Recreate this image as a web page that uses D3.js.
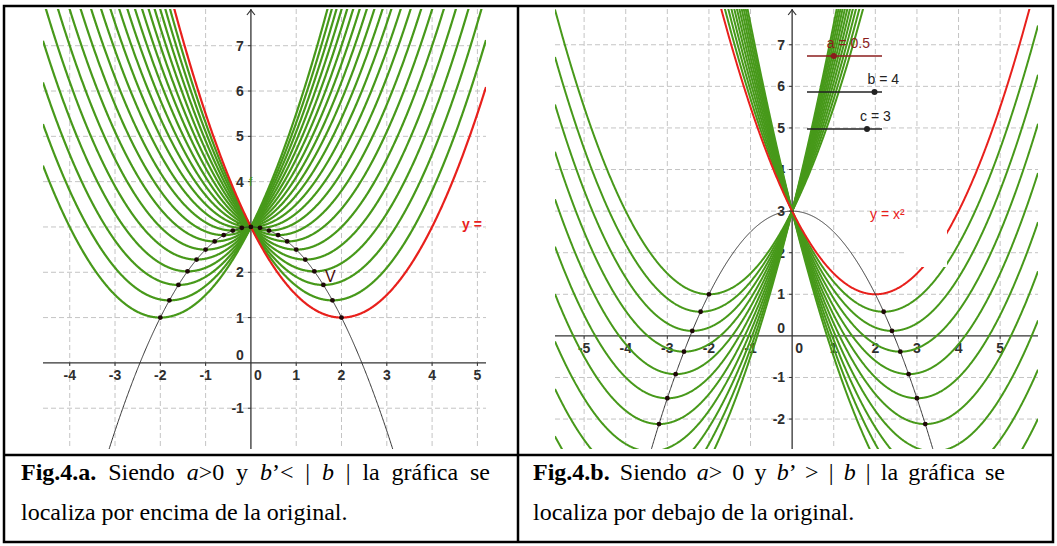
<!DOCTYPE html>
<html>
<head>
<meta charset="utf-8">
<script src="https://cdn.jsdelivr.net/npm/d3@7.9.0/dist/d3.min.js"></script>
<style>
  body { margin: 0; background: #fff; }
  svg { display: block; }
  .lbl { font-family: "Liberation Sans", Arial, sans-serif; font-size: 14px; fill: #1a1a1a; }
  .tk { font-family: "Liberation Sans", Arial, sans-serif; font-size: 14px; font-weight: bold; fill: #2e2e2e; }
  .caption { font-family: "Liberation Serif", "Times New Roman", serif; font-size: 24px; fill: #000; }
</style>
</head>
<body>
<svg id="fig" width="1057" height="546"></svg>
<script>
// parabolas y = a*x^2 + b*x + c  (all curves share a and c)
const aCoef = 0.5;
const cCoef = 3;
const bOriginal = -2;   // red curve, vertex (2, 1)

// family of b' values, panel a (|b'| <= |b|) and panel b (|b'| > |b|)
const bFamilyA = [2, 1.8, 1.6, 1.4, 1.2, 1, 0.8, 0.6, 0.4, 0.2, 0, -0.2, -0.4, -0.6, -0.8, -1, -1.2, -1.4, -1.6, -1.8];
const bFamilyB = [2, 2.2, 2.4, 2.6, 2.8, 3, 3.2, 3.4, 3.6, 3.8, 4, -2.2, -2.4, -2.6, -2.8, -3, -3.2, -3.4, -3.6, -3.8, -4];

// tick labels
const xTicksA = [-4, -3, -2, -1, 1, 2, 3, 4, 5];
const yTicksA = [-1, 1, 2, 3, 4, 5, 6, 7];
const xTicksB = [-5, -4, -3, -2, -1, 1, 2, 3, 4, 5];
const yTicksB = [-2, -1, 1, 2, 3, 4, 5, 6, 7];

// sliders shown in panel b
const sliderNames = ['a', 'b', 'c'];
const sliderValues = [0.5, 4, 3];
const sliderRanges = [[-2, 5], [-5, 5], [-5, 5]];

const captionA = ['Fig.4.a.', ' Siendo ', 'a', '>0 y ', 'b', '’< | ', 'b', ' | la gráfica se'];
const captionB = ['Fig.4.b.', ' Siendo ', 'a', '> 0 y ', 'b', '’ > | ', 'b', ' | la gráfica se'];
const captionA2 = 'localiza por encima de la original.';
const captionB2 = 'localiza por debajo de la original.';

const GREEN = '#47991a', RED = '#e8201c', DOT = '#1e0808';

const svg = d3.select('#fig');

function parabola(b) {
  return x => aCoef * x * x + b * x + cCoef;
}

const fmt = d => d < 0 ? '-' + (-d) : String(d);

function drawPanel(opt) {
  const x = d3.scaleLinear().domain(opt.xDom).range([opt.left, opt.right]);
  const y = d3.scaleLinear().domain(opt.yDom).range([opt.bottom, opt.top]);
  const id = 'clip' + opt.name;
  svg.append('clipPath').attr('id', id)
    .append('rect').attr('x', opt.left).attr('y', opt.top)
    .attr('width', opt.right - opt.left).attr('height', opt.bottom - opt.top);
  const g = svg.append('g').attr('clip-path', `url(#${id})`);

  // grid
  const gx = d3.range(Math.ceil(opt.xDom[0]), Math.floor(opt.xDom[1]) + 1).filter(v => v !== 0);
  const gy = d3.range(Math.ceil(opt.yDom[0]), Math.floor(opt.yDom[1]) + 1).filter(v => v !== 0);
  g.selectAll('.gx').data(gx).join('line')
    .attr('x1', d => x(d)).attr('x2', d => x(d)).attr('y1', opt.top).attr('y2', opt.bottom)
    .attr('stroke', '#c4c4c4').attr('stroke-dasharray', '5,3');
  g.selectAll('.gy').data(gy).join('line')
    .attr('y1', d => y(d)).attr('y2', d => y(d)).attr('x1', opt.left).attr('x2', opt.right)
    .attr('stroke', '#c4c4c4').attr('stroke-dasharray', '5,3');

  // axes
  g.append('line').attr('x1', opt.left).attr('x2', opt.right).attr('y1', y(0)).attr('y2', y(0))
    .attr('stroke', '#333').attr('stroke-width', 1.3);
  g.append('line').attr('x1', x(0)).attr('x2', x(0)).attr('y1', opt.top).attr('y2', opt.bottom)
    .attr('stroke', '#333').attr('stroke-width', 1.3);
  g.append('path')
    .attr('d', `M${x(0) - 4},${opt.top + 6}L${x(0)},${opt.top + 1}L${x(0) + 4},${opt.top + 6}`)
    .attr('fill', 'none').attr('stroke', '#333').attr('stroke-width', 1.2);
  g.selectAll('.tx').data(opt.xTicks).join('line')
    .attr('x1', d => x(d)).attr('x2', d => x(d)).attr('y1', y(0)).attr('y2', y(0) + 3)
    .attr('stroke', '#333');
  g.selectAll('.ty').data(opt.yTicks).join('line')
    .attr('x1', x(0) - 3).attr('x2', x(0)).attr('y1', d => y(d)).attr('y2', d => y(d))
    .attr('stroke', '#333');

  // tick labels
  g.selectAll('.xl').data(opt.xTicks).join('text').attr('class', 'tk')
    .attr('x', d => x(d)).attr('y', y(0) + 17).attr('text-anchor', 'middle')
    .text(fmt);
  g.selectAll('.yl').data(opt.yTicks).join('text').attr('class', 'tk')
    .attr('x', x(0) - 7).attr('y', d => y(d) + 5).attr('text-anchor', 'end')
    .text(fmt);
  g.append('text').attr('class', 'tk').attr('x', x(0) + 7).attr('y', y(0) + 17)
    .attr('text-anchor', 'middle').text('0');
  g.append('text').attr('class', 'tk').attr('x', x(0) - 7).attr('y', y(0) - 3)
    .attr('text-anchor', 'end').text('0');

  const xs = d3.range(opt.xDom[0], opt.xDom[1] + 0.01, 0.01);
  const line = d3.line().x(d => x(d[0])).y(d => y(d[1]));
  const curve = f => line(xs.map(v => [v, f(v)]));

  // family
  g.selectAll('.fam').data(opt.bFamily).join('path')
    .attr('d', b => curve(parabola(b)))
    .attr('fill', 'none').attr('stroke', GREEN).attr('stroke-width', opt.sw);
  // original
  g.append('path').attr('d', curve(parabola(bOriginal)))
    .attr('fill', 'none').attr('stroke', RED).attr('stroke-width', opt.sw);
  // locus of vertices y = c - a x^2
  g.append('path').attr('d', curve(v => cCoef - aCoef * v * v))
    .attr('fill', 'none').attr('stroke', '#333').attr('stroke-width', 1);
  // vertices
  g.selectAll('.dot').data(opt.dots).join('circle')
    .attr('cx', b => x(-b / (2 * aCoef)))
    .attr('cy', b => y(cCoef - b * b / (4 * aCoef)))
    .attr('r', 2.4).attr('fill', DOT);

  return { g, x, y };
}

// panel a
const pa = drawPanel({
  name: 'A', left: 43, right: 486, top: 9, bottom: 449,
  xDom: [-4.59, 5.19], yDom: [-1.9, 7.81], sw: 2.2,
  xTicks: xTicksA, yTicks: yTicksA, bFamily: bFamilyA,
  dots: bFamilyA.concat([bOriginal])
});
pa.g.append('text').attr('class', 'lbl').attr('x', 462).attr('y', pa.y(3) + 2)
  .style('fill', RED).style('font-weight', 'bold').text('y = x²');
pa.g.append('text').attr('class', 'lbl').attr('x', 325).attr('y', 282)
  .style('fill', '#4a0a0a').style('font-size', '16px').text('V');
pa.g.append('text').attr('class', 'lbl').attr('x', pa.x(0) - 2).attr('y', pa.y(4) + 4)
  .style('fill', GREEN).style('font-size', '12px').text('f');

// panel b
const pb = drawPanel({
  name: 'B', left: 555, right: 1038, top: 9, bottom: 449,
  xDom: [-5.7, 5.91], yDom: [-2.72, 7.86], sw: 2,
  xTicks: xTicksB, yTicks: yTicksB, bFamily: bFamilyB,
  dots: bFamilyB
});
// white patch left over from a hidden label
pb.g.append('rect').attr('x', 906).attr('y', 228).attr('width', 41).attr('height', 39).attr('fill', '#fff');
pb.g.append('text').attr('class', 'lbl').attr('x', 870).attr('y', 219)
  .style('fill', RED).text('y = x²');

// sliders
const sliderY = [56, 92, 129];
const sliderColor = ['#8b1c1c', '#222', '#222'];
sliderNames.forEach((n, i) => {
  const s = d3.scaleLinear().domain(sliderRanges[i]).range([807, 882]);
  pb.g.append('line').attr('x1', 807).attr('x2', 882).attr('y1', sliderY[i]).attr('y2', sliderY[i])
    .attr('stroke', sliderColor[i]).attr('stroke-width', 1.3);
  pb.g.append('circle').attr('cx', s(sliderValues[i])).attr('cy', sliderY[i]).attr('r', 3)
    .attr('fill', sliderColor[i]);
  pb.g.append('text').attr('class', 'lbl').attr('x', s(sliderValues[i]) - 7).attr('y', sliderY[i] - 8)
    .style('fill', sliderColor[i]).text(`${n} = ${sliderValues[i]}`);
});

// table frame
const frame = svg.append('g').attr('stroke', '#000').attr('stroke-width', 2.5).attr('fill', 'none');
frame.append('rect').attr('x', 4).attr('y', 6).attr('width', 1049).attr('height', 536);
frame.append('line').attr('x1', 518).attr('x2', 518).attr('y1', 6).attr('y2', 542);
frame.append('line').attr('x1', 4).attr('x2', 1053).attr('y1', 455).attr('y2', 455);

// captions; first line justified like the word processor did
function caption(parts, line2, x0, x1) {
  const t = svg.append('text').attr('class', 'caption').attr('x', x0).attr('y', 480);
  parts.forEach((p, i) => {
    const ts = t.append('tspan').text(p);
    if (i === 0) ts.style('font-weight', 'bold');
    if (p === 'a' || p === 'b') ts.style('font-style', 'italic');
  });
  const natural = t.node().getComputedTextLength();
  const spaces = (parts.join('').match(/ /g) || []).length;
  t.attr('word-spacing', Math.max(0, (x1 - x0 - natural) / spaces));
  svg.append('text').attr('class', 'caption').attr('x', x0).attr('y', 520).text(line2);
}
caption(captionA, captionA2, 21, 490);
caption(captionB, captionB2, 533, 1005);
</script>
</body>
</html>
